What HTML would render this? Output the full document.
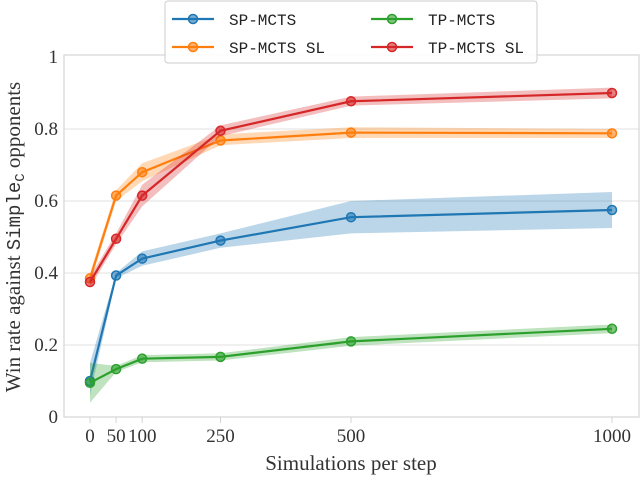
<!DOCTYPE html>
<html><head><meta charset="utf-8"><style>
body{margin:0;background:#fff}
svg text{font-family:"Liberation Serif","DejaVu Serif",serif}
.mono{font-family:"Liberation Mono","DejaVu Sans Mono",monospace}
</style></head><body>
<svg id="chart" width="640" height="476" xmlns="http://www.w3.org/2000/svg"></svg>
<script>
const xValues=[0,50,100,250,500,1000];
const xTickLabels=["0","50","100","250","500","1000"];
const yTicks=[0,0.2,0.4,0.6,0.8,1];
const yTickLabels=["0","0.2","0.4","0.6","0.8","1"];
const seriesNames=["SP-MCTS","SP-MCTS SL","TP-MCTS","TP-MCTS SL"];
const seriesColors=["#1f77b4","#ff7f0e","#2ca02c","#d62728"];
const spMean=[0.10,0.393,0.44,0.49,0.555,0.575];
const spLo=[0.06,0.385,0.42,0.47,0.51,0.525];
const spHi=[0.15,0.40,0.46,0.51,0.60,0.625];
const spslMean=[0.385,0.615,0.68,0.768,0.79,0.788];
const spslLo=[0.37,0.60,0.655,0.755,0.775,0.775];
const spslHi=[0.40,0.63,0.705,0.785,0.805,0.80];
const tpMean=[0.095,0.133,0.162,0.167,0.21,0.245];
const tpLo=[0.04,0.125,0.152,0.157,0.198,0.233];
const tpHi=[0.15,0.142,0.172,0.177,0.222,0.257];
const tpslMean=[0.375,0.495,0.615,0.795,0.877,0.90];
const tpslLo=[0.36,0.48,0.585,0.78,0.865,0.885];
const tpslHi=[0.39,0.51,0.645,0.81,0.89,0.915];
const means=[spMean,spslMean,tpMean,tpslMean];
const los=[spLo,spslLo,tpLo,tpslLo];
const his=[spHi,spslHi,tpHi,tpslHi];

const NS="http://www.w3.org/2000/svg";
const svg=document.getElementById('chart');
const L=64,R=639,T=57,B=417;
const X=v=>90+v*(612-90)/1000;
const Y=v=>B-v*(B-T);
function mk(tag,attrs,parent){const e=document.createElementNS(NS,tag);for(const k in attrs)e.setAttribute(k,attrs[k]);(parent||svg).appendChild(e);return e;}

const grid=mk('g',{});


yTicks.forEach((t,i)=>{
  if(t>0&&t<1){const g=mk('line',{x1:L,x2:R,y1:Y(t),y2:Y(t),stroke:'#e0e0e0','stroke-width':1},grid);
  }
  const tx=mk('text',{x:L-6,y:Y(t)+6,'text-anchor':'end','font-size':19,fill:'#333'});
  tx.textContent=yTickLabels[i];
  
  
});
const frame=mk('rect',{x:L,y:T-2,width:R-L,height:B-T+2,fill:'none',stroke:'#d4d4d4','stroke-width':1.2});


xValues.forEach((v,i)=>{
  const tk=mk('line',{x1:X(v),x2:X(v),y1:B,y2:B+6,stroke:'#d4d4d4'});
  
  
  const tx=mk('text',{x:X(v),y:B+25,'text-anchor':'middle','font-size':19,fill:'#333'});
  tx.textContent=xTickLabels[i];
  
  
});

means.forEach((m,s)=>{
  const g=mk('g',{});
  
  
  let d=xValues.map((v,i)=>(i?'L':'M')+X(v)+','+Y(his[s][i])).join('');
  d+=xValues.slice().reverse().map((v,j)=>{const i=xValues.length-1-j;return 'L'+X(v)+','+Y(los[s][i]);}).join('')+'Z';
  const band=mk('path',{d:d,fill:seriesColors[s],'fill-opacity':0.3,stroke:'none'},g);
  
  
  const ln=mk('polyline',{points:xValues.map((v,i)=>X(v)+','+Y(m[i])).join(' '),fill:'none',stroke:seriesColors[s],'stroke-width':2.2},g);
  
  
  xValues.forEach((v,i)=>{
    const c=mk('circle',{cx:X(v),cy:Y(m[i]),r:4.5,fill:seriesColors[s],'fill-opacity':0.6,stroke:seriesColors[s],'stroke-width':1.5},g);
    
    
  });
});

const lg=mk('g',{});


const lb=mk('rect',{x:165,y:1,width:372,height:62,rx:3,fill:'#fff','fill-opacity':0.9,stroke:'#ccc'},lg);


const pos=[[172,19],[172,47],[371,19],[371,47]];
seriesNames.forEach((n,s)=>{
  const [x,y]=pos[s];
  const e=mk('g',{},lg);
  
  
  mk('line',{x1:x,x2:x+42,y1:y,y2:y,stroke:seriesColors[s],'stroke-width':2.2},e);
  mk('circle',{cx:x+21,cy:y,r:4.5,fill:seriesColors[s],'fill-opacity':0.6,stroke:seriesColors[s],'stroke-width':1.5},e);
  const t=mk('text',{x:x+57,y:y+6,'font-size':16,fill:'#222',class:'mono'},e);
  t.textContent=n;
});

const xt=mk('text',{x:351,y:470,'text-anchor':'middle','font-size':21,fill:'#333'});
xt.textContent='Simulations per step';


const yt=mk('text',{x:0,y:0,'text-anchor':'middle','font-size':21,fill:'#333',transform:'translate(20,237) rotate(-90)'});


yt.innerHTML='Win rate against <tspan class="mono" font-size="19">Simple</tspan><tspan class="mono" font-size="14" dy="4">C</tspan><tspan dy="-4"> opponents</tspan>';
</script>
</body></html>
